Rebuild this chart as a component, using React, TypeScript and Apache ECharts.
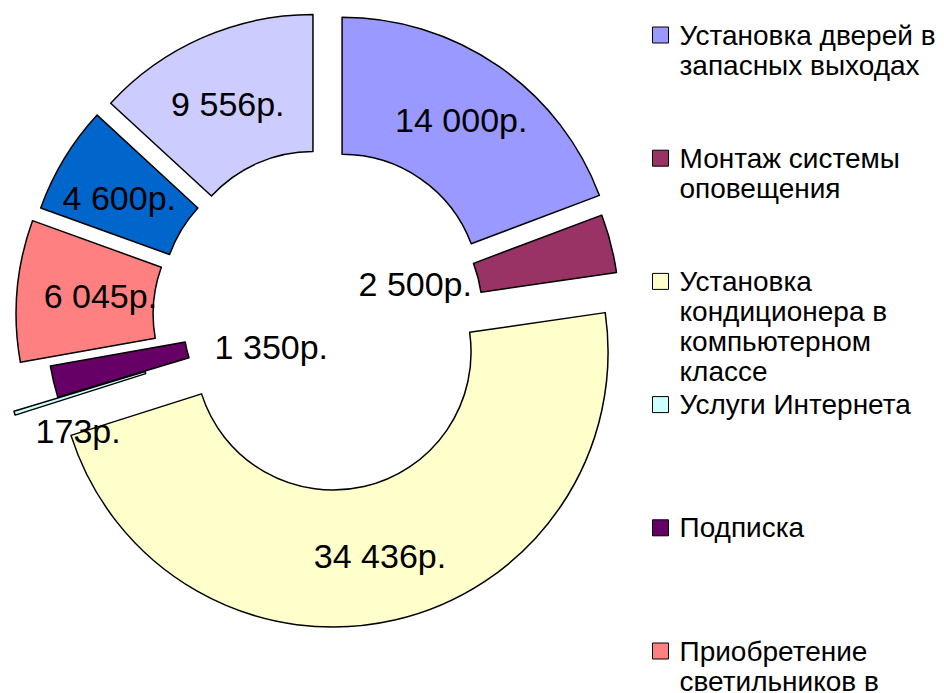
import React, { useEffect, useRef } from "react";
import * as echarts from "echarts";

// ---- data ----
const categories = [
  "Установка дверей в запасных выходах",
  "Монтаж системы оповещения",
  "Установка кондиционера в компьютерном классе",
  "Услуги Интернета",
  "Подписка",
  "Приобретение светильников в",
  "Статья 7",
  "Статья 8",
];
const values = [14000, 2500, 34436, 173, 1350, 6045, 4600, 9556];
const legendLines = [
  ["Установка дверей в", "запасных выходах"],
  ["Монтаж системы", "оповещения"],
  ["Установка", "кондиционера в", "компьютерном", "классе"],
  ["Услуги Интернета"],
  ["Подписка"],
  ["Приобретение", "светильников в"],
];

// ---- style / layout ----
const colors = ["#9999FF", "#993366", "#FFFFCC", "#CCFFFF", "#660066", "#FF8080", "#0066CC", "#CCCCFF"];
const explode = [30, 20, 36, 50, 4, 34, 30, 30];
const labelShift: Record<number, { dx: number; dy: number }> = {
  1: { dx: -132, dy: 24 },
  3: { dx: 1, dy: 37 },
  4: { dx: 154, dy: -20 },
  5: { dx: 18, dy: 0 },
  6: { dx: -1, dy: 5 },
  7: { dx: -1, dy: 6 },
};
const FONT = '"Liberation Sans", Arial, sans-serif';
const CENTER = [325, 317];
const RADIUS = [138, 275];
const LEGEND_Y0 = 35;
const LEGEND_STEP = 123.2;
const LINE_H = 30;

const fmt = (v: number) => String(v).replace(/\B(?=(\d{3})+(?!\d))/g, " ") + "р.";

export default function App() {
  const ref = useRef<HTMLDivElement>(null);
  useEffect(() => {
    if (!ref.current) return;
    const chart = echarts.init(ref.current, undefined, { renderer: "svg" });
    const groups = Array.from(new Set(explode));
    const series = groups.map((off) => ({
      type: "pie",
      center: CENTER,
      radius: RADIUS,
      startAngle: 90,
      clockwise: true,
      selectedMode: "multiple",
      selectedOffset: off,
      avoidLabelOverlap: false,
      emphasis: { disabled: true },
      labelLine: { show: false },
      labelLayout: (p: any) => labelShift[p.dataIndex] || {},
      data: values.map((v, i) => {
        const mine = explode[i] === off;
        return mine
          ? {
              name: categories[i],
              value: v,
              selected: off > 0,
              itemStyle: { color: colors[i], borderColor: "#000", borderWidth: 1.5 },
              select: { itemStyle: { color: colors[i], borderColor: "#000", borderWidth: 1.5 } },
              label: {
                show: true,
                position: "inside",
                formatter: fmt(v),
                color: "#000",
                fontSize: 34,
                fontFamily: FONT,
              },
            }
          : {
              name: categories[i],
              value: v,
              itemStyle: { color: "transparent", borderWidth: 0 },
              label: { show: false },
            };
      }),
    }));
    const legend = legendLines.map((lines, i) => {
      const n = lines.length;
      const y = LEGEND_Y0 + LEGEND_STEP * i;
      return {
        data: [
          {
            name: categories[i],
            icon: "rect",
            itemStyle: { color: colors[i], borderColor: "#000", borderWidth: 1 },
          },
        ],
        left: 652,
        top: y - ((2 * n - 1) * LINE_H) / 2,
        orient: "vertical",
        padding: 0,
        itemWidth: 16,
        itemHeight: 16,
        selectedMode: false,
        // leading blank lines keep the icon level with the first text line
        formatter: () => "\n".repeat(n - 1) + lines.join("\n"),
        textStyle: {
          fontSize: 28,
          lineHeight: LINE_H,
          color: "#000",
          fontFamily: FONT,
          padding: [0, 0, 0, 6],
        },
      };
    });
    chart.setOption({
      animation: false,
      backgroundColor: "#fff",
      legend,
      series,
    } as any);
    return () => chart.dispose();
  }, []);
  return (
    <div
      ref={ref}
      style={{ position: "fixed", left: 0, top: 0, width: 944, height: 693, background: "#fff" }}
    />
  );
}
